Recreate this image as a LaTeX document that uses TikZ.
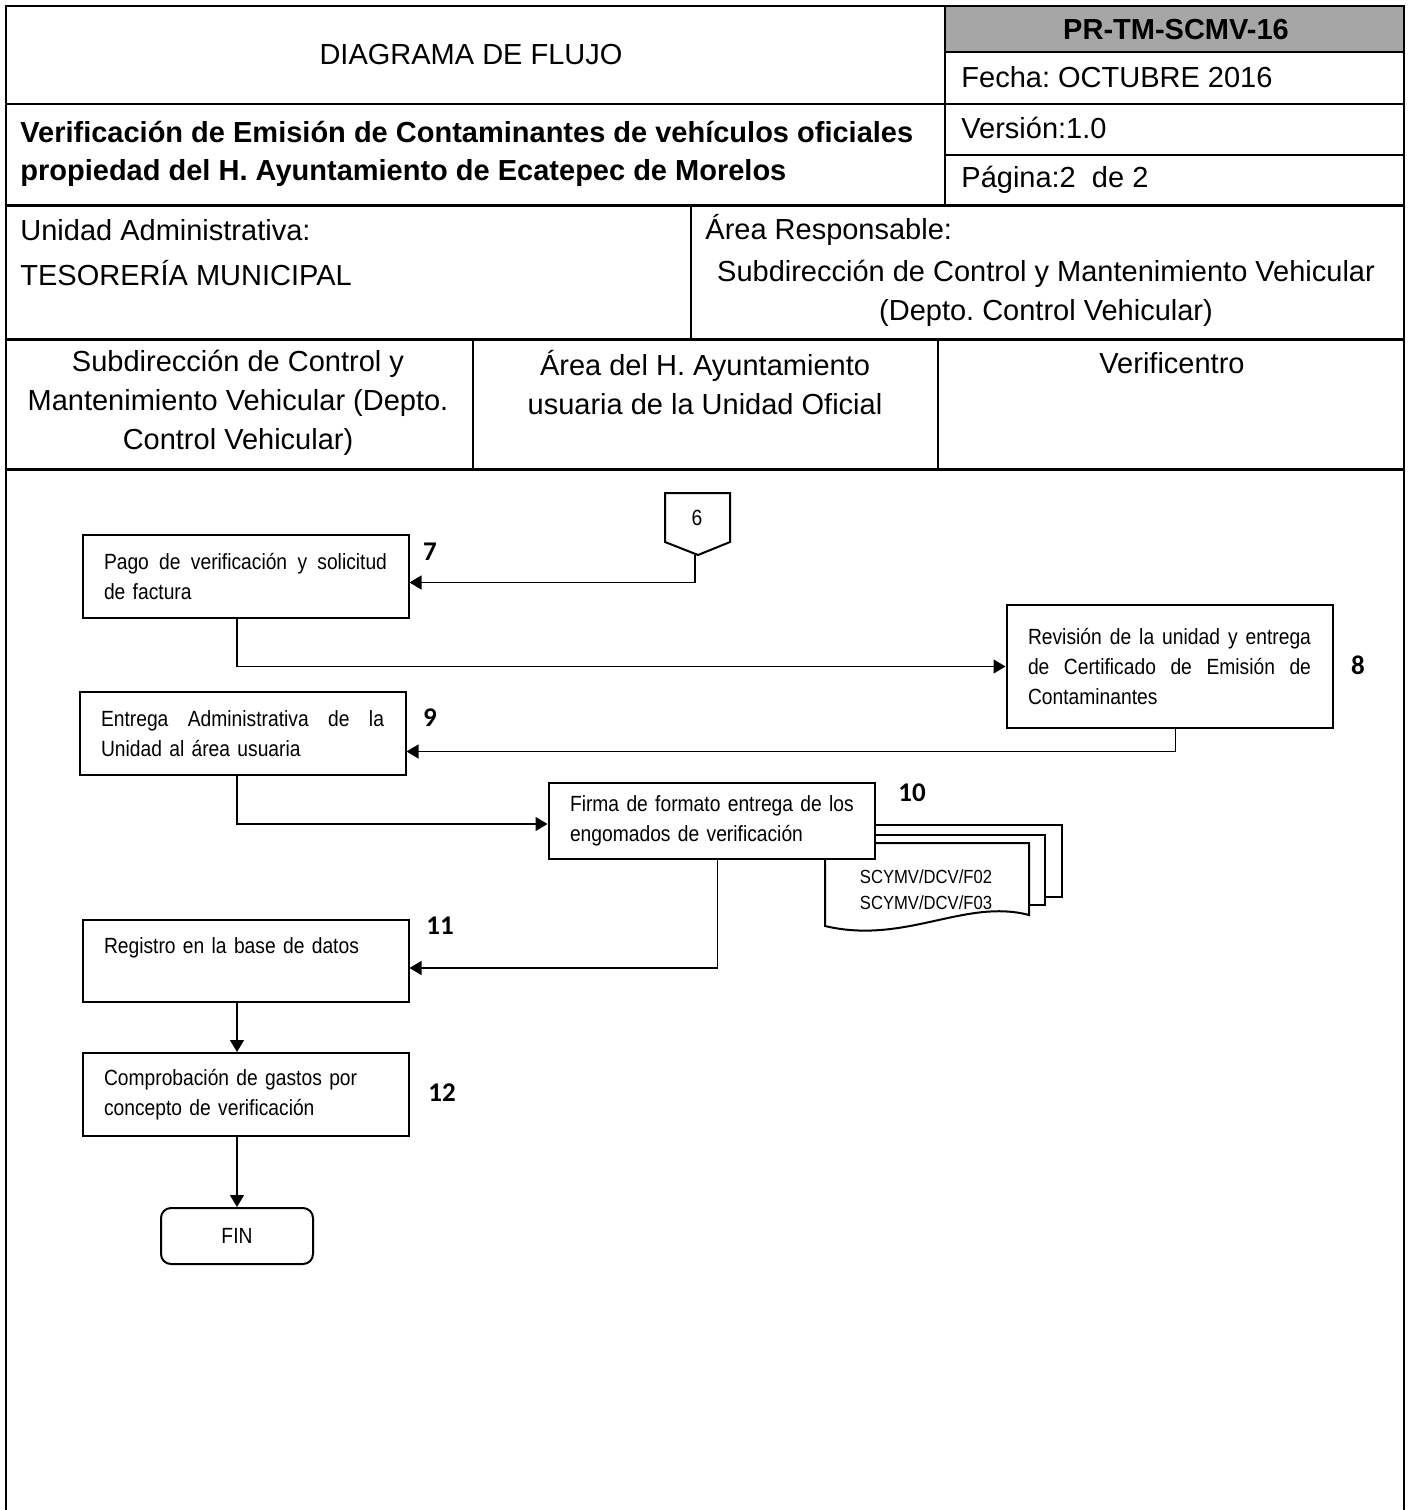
\documentclass[tikz,border=0pt]{standalone}
\usepackage{fontspec}
\setmainfont{Liberation Sans}
\newfontfamily\cajafont[FakeStretch=0.875]{Liberation Sans}
\newfontfamily\numfont{Carlito}
\usetikzlibrary{arrows.meta}
\definecolor{grisceldas}{RGB}{166,166,166}
\frenchspacing
\newcommand{\lineajust}[1]{\makebox[141.5pt][s]{\spaceskip=\fontdimen2\font plus 1fil\relax#1}}

\tikzset{
    linea/.style={line width=1pt},
    lineagruesa/.style={line width=1.5pt},
    encabezado/.style={inner sep=0pt, font=\fontsize{14.5}{19.5}\selectfont},
    encabezadob/.style={inner sep=0pt, font=\fontsize{14.5}{19}\selectfont\bfseries},
    caja/.style={
        draw,
        line width=1pt,
        fill=white,
        inner sep=0pt,
        minimum width=163pt,
        text width=141.5pt,
        align=left,
        font=\cajafont\fontsize{11}{15}\selectfont
    },
    paso/.style={inner sep=0pt, font=\numfont\bfseries\fontsize{13.5}{14}\selectfont},
    flecha/.style={line width=0.6pt, -{Triangle[length=6pt,width=7pt]}}
}

\begin{document}
\begin{tikzpicture}[x=0.5pt,y=-0.5pt]
    \useasboundingbox (0,0) rectangle (1408,1510);

    % encabezado
    \fill[grisceldas] (945,6) rectangle (1404,52);
    \draw[linea] (6,1510) -- (6,6) -- (1404,6) -- (1404,1510);
    \draw[linea] (945,52) -- (1404,52);
    \draw[linea] (6,104) -- (1404,104);
    \draw[linea] (945,155) -- (1404,155);
    \draw[linea] (945,6) -- (945,205);
    \draw[lineagruesa] (6,205) -- (1404,205);
    \draw[linea] (691,205) -- (691,339);
    \draw[lineagruesa] (6,339) -- (1404,339);
    \draw[linea] (473,339) -- (473,469);
    \draw[linea] (938,339) -- (938,469);
    \draw[lineagruesa] (6,469) -- (1404,469);

    \node[encabezado] (diagrama) at (471,55) {DIAGRAMA DE FLUJO};
    \node[encabezadob] (codigo) at (1176,30) {PR-TM-SCMV-16};
    \node[encabezado, anchor=west] (fecha) at (961,77) {Fecha: OCTUBRE 2016};
    \node[encabezado, anchor=west] (version) at (961,128) {Versión:1.0};
    \node[encabezado, anchor=west] (pagina) at (961,180) {Página:2\ \ de 2};
    \node[encabezadob, anchor=west, align=left] (titulo) at (20,154)
        {Verificación de Emisión de Contaminantes de vehículos oficiales\\propiedad del H. Ayuntamiento de Ecatepec de Morelos};
    \node[encabezado, anchor=west] (unidad) at (20,230) {Unidad Administrativa:};
    \node[encabezado, anchor=west] (tesoreria) at (20,273) {TESORERÍA MUNICIPAL};
    \node[encabezado, anchor=west] (area) at (705,230) {Área Responsable:};
    \node[encabezado, align=center] (subdireccion) at (1046,293)
        {Subdirección de Control y Mantenimiento Vehicular\\(Depto. Control Vehicular)};
    \node[encabezado, align=center] (carrilA) at (238,403)
        {Subdirección de Control y\\Mantenimiento Vehicular (Depto.\\Control Vehicular)};
    \node[encabezado, align=center] (carrilB) at (705,383)
        {Área del H. Ayuntamiento\\usuaria de la Unidad Oficial};
    \node[encabezado] (carrilC) at (1172,363) {Verificentro};

    % conector de pagina
    \draw[linea, fill=white] (665,493) -- (730,493) -- (730,542) -- (698,555) -- (665,542) -- cycle;
    \node[inner sep=0pt, font=\cajafont\fontsize{11}{13}\selectfont] (conector) at (697,518) {6};
    \coordinate (pico) at (695,555);

    % documentos
    \draw[linea, fill=white] (855,825) rectangle (1062,897);
    \draw[linea, fill=white] (840,835) rectangle (1045,905);
    \draw[linea, fill=white] (825,843) -- (1029,843) -- (1029,915)
        .. controls (965,898) and (905,945) .. (825,926) -- cycle;
    \node[inner sep=0pt, align=center, font=\cajafont\fontsize{9.5}{13}\selectfont] (formatos) at (926,890)
        {SCYMV/DCV/F02\\SCYMV/DCV/F03};

    % actividades
    \node[caja, minimum height=41.5pt] (pago) at (245.5,576.5)
        {\lineajust{Pago de verificación y solicitud}\\de factura};
    \node[caja, minimum height=61.5pt] (revision) at (1169.5,666.5)
        {\lineajust{Revisión de la unidad y entrega}\\\lineajust{de Certificado de Emisión de}\\Contaminantes};
    \node[caja, minimum height=41.5pt] (entrega) at (242.5,733.5)
        {\lineajust{Entrega Administrativa de la}\\Unidad al área usuaria};
    \node[caja, minimum height=38pt] (firma) at (711.5,821)
        {\mbox{Firma de formato entrega de los}\\engomados de verificación};
    \node[caja, minimum height=41pt] (registro) at (245.5,961)
        {Registro en la base de datos\\\mbox{}};
    \node[caja, minimum height=41.5pt] (comprobacion) at (245.5,1094.5)
        {Comprobación de gastos por\\concepto de verificación};
    \node[draw, line width=1pt, rounded corners=5pt, minimum width=76pt, minimum height=28pt,
        font=\cajafont\fontsize{11}{13}\selectfont] (fin) at (237,1236) {FIN};

    % numeros
    \node[paso] (n7) at (430,552) {7};
    \node[paso] (n8) at (1358,665) {8};
    \node[paso] (n9) at (430,718) {9};
    \node[paso] (n10) at (912,793) {10};
    \node[paso] (n11) at (440,926) {11};
    \node[paso] (n12) at (442,1093) {12};

    % flechas
    \draw[flecha] (pico) |- ([yshift=-3pt]pago.east);
    \draw[flecha] (pago.south -| fin.north) |- (revision.west);
    \draw[flecha] ([xshift=3pt]revision.south) |- ([yshift=-9pt]entrega.east);
    \draw[flecha] (entrega.south -| fin.north) |- ([yshift=-1.5pt]firma.west);
    \draw[flecha] ([xshift=3pt]firma.south) |- ([yshift=-3.5pt]registro.east);
    \draw[flecha] (registro.south -| fin.north) -- (comprobacion.north -| fin.north);
    \draw[flecha] (comprobacion.south -| fin.north) -- (fin.north);
\end{tikzpicture}
\end{document}
